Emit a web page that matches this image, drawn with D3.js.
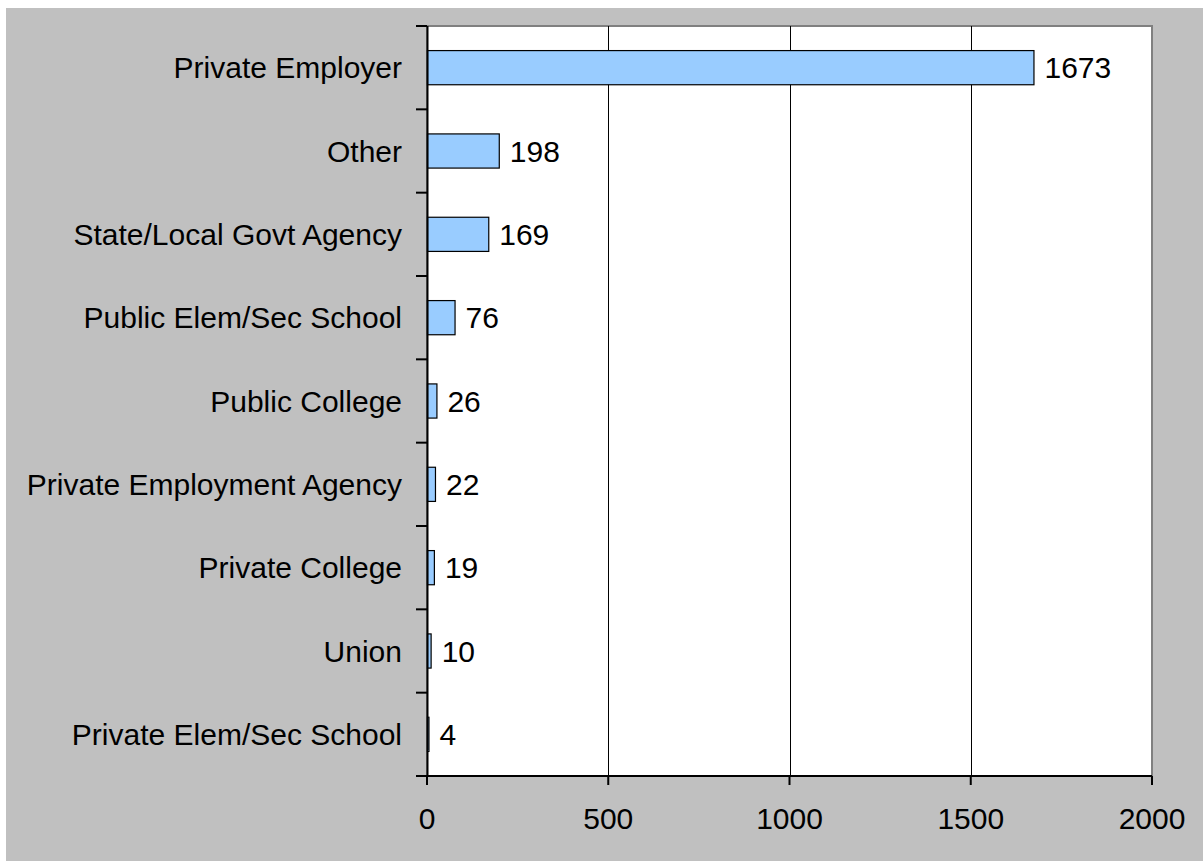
<!DOCTYPE html>
<html>
<head>
<meta charset="utf-8">
<script src="https://cdn.jsdelivr.net/npm/d3@7"></script>
<style>
  html, body { margin: 0; padding: 0; background: #ffffff; }
  svg { display: block; }
  text { font-family: Arial, "Liberation Sans", sans-serif; fill: #000; }
</style>
</head>
<body>
<svg id="chart" width="1203" height="861"></svg>
<script>
const categories = [
  "Private Employer",
  "Other",
  "State/Local Govt Agency",
  "Public Elem/Sec School",
  "Public College",
  "Private Employment Agency",
  "Private College",
  "Union",
  "Private Elem/Sec School"
];
const values = [1673, 198, 169, 76, 26, 22, 19, 10, 4];
const xTicks = [0, 500, 1000, 1500, 2000];

const W = 1203, H = 861;
const plot = { left: 427, right: 1152, top: 26, bottom: 776 };
const FS = 30;

const svg = d3.select("#chart");

// outer gray background
svg.append("rect")
  .attr("x", 6).attr("y", 8)
  .attr("width", W - 6).attr("height", H - 8)
  .attr("fill", "#c0c0c0");

// plot area
svg.append("rect")
  .attr("x", plot.left).attr("y", plot.top)
  .attr("width", plot.right - plot.left).attr("height", plot.bottom - plot.top)
  .attr("fill", "#ffffff")
  .attr("stroke", "#808080").attr("stroke-width", 2);

const x = d3.scaleLinear().domain([0, 2000]).range([plot.left, plot.right]);
const y = d3.scaleBand().domain(categories).range([plot.top, plot.bottom]).padding(0);
const barH = y.bandwidth() * 0.41;

// gridlines
svg.append("g").selectAll("line")
  .data(xTicks.filter(t => t > 0 && t < 2000))
  .join("line")
  .attr("x1", d => Math.round(x(d)) + 0.5).attr("x2", d => Math.round(x(d)) + 0.5)
  .attr("y1", plot.top).attr("y2", plot.bottom)
  .attr("stroke", "#000").attr("stroke-width", 1);

// bars
svg.append("g").selectAll("rect")
  .data(values)
  .join("rect")
  .attr("x", x(0) + 0.5)
  .attr("y", (d, i) => y(categories[i]) + (y.bandwidth() - barH) / 2)
  .attr("width", d => Math.max(0, x(d) - x(0)))
  .attr("height", barH)
  .attr("fill", "#99ccff")
  .attr("stroke", "#000").attr("stroke-width", 1.2);

// value labels
svg.append("g").selectAll("text")
  .data(values)
  .join("text")
  .attr("x", d => x(d) + 11)
  .attr("y", (d, i) => y(categories[i]) + y.bandwidth() / 2)
  .attr("dy", "0.36em")
  .attr("font-size", FS)
  .text(d => d);

// y axis
const yAxisG = svg.append("g");
yAxisG.append("line")
  .attr("x1", plot.left + 0.5).attr("x2", plot.left + 0.5)
  .attr("y1", plot.top).attr("y2", plot.bottom)
  .attr("stroke", "#000").attr("stroke-width", 2);
const yTickPos = d3.range(categories.length + 1).map(i => plot.top + i * y.step());
yAxisG.selectAll("line.tick")
  .data(yTickPos)
  .join("line").attr("class", "tick")
  .attr("x1", plot.left - 11).attr("x2", plot.left)
  .attr("y1", d => d).attr("y2", d => d)
  .attr("stroke", "#000").attr("stroke-width", 2);
yAxisG.selectAll("text")
  .data(categories)
  .join("text")
  .attr("x", plot.left - 25)
  .attr("y", d => y(d) + y.bandwidth() / 2)
  .attr("dy", "0.36em")
  .attr("text-anchor", "end")
  .attr("font-size", FS)
  .text(d => d);

// x axis
const xAxisG = svg.append("g");
xAxisG.append("line")
  .attr("x1", plot.left - 11).attr("x2", plot.right)
  .attr("y1", plot.bottom).attr("y2", plot.bottom)
  .attr("stroke", "#000").attr("stroke-width", 2);
xAxisG.selectAll("line.tick")
  .data(xTicks)
  .join("line").attr("class", "tick")
  .attr("x1", d => x(d)).attr("x2", d => x(d))
  .attr("y1", plot.bottom).attr("y2", plot.bottom + 9)
  .attr("stroke", "#000").attr("stroke-width", 2);
xAxisG.selectAll("text")
  .data(xTicks)
  .join("text")
  .attr("x", d => x(d))
  .attr("y", plot.bottom + 42)
  .attr("dy", "0.36em")
  .attr("text-anchor", "middle")
  .attr("font-size", FS)
  .text(d => d);
</script>
</body>
</html>
